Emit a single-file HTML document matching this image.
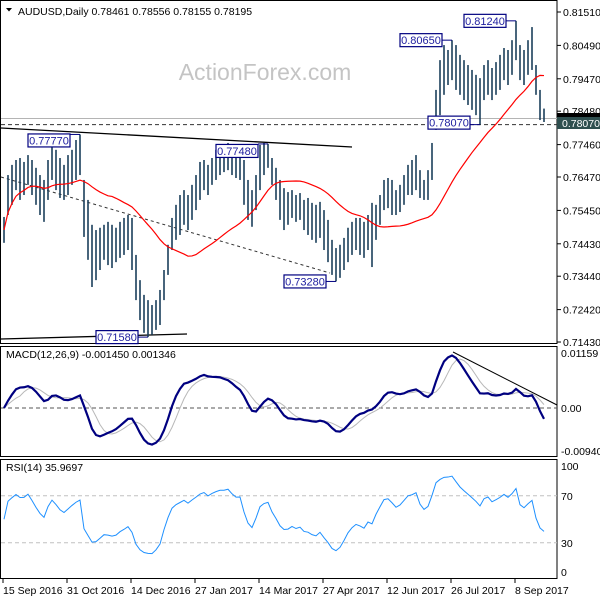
<!DOCTYPE html>
<html><head><meta charset="utf-8"><style>
body{margin:0;background:#fff;}
svg{display:block;font-family:"Liberation Sans",sans-serif;}
</style></head><body>
<svg id="c" width="600" height="600" viewBox="0 0 600 600"></svg>
<script>
const highs=[.7525,.7653,.7684,.7699,.7705,.7693,.7714,.7699,.7675,.7653,
.7638,.7699,.7739,.7730,.7705,.7684,.7714,.7730,.7760,.7777,
.7638,.7577,.7501,.7485,.7492,.7501,.7510,.7501,.7492,.7510,
.7522,.7531,.7522,.7409,.7332,.7287,.7271,.7256,.7271,.7302,
.7363,.7440,.7522,.7562,.7592,.7607,.7592,.7623,.7653,.7693,
.7699,.7684,.7705,.7730,.7745,.7736,.7751,.7736,.7723,.7730,
.7699,.7638,.7607,.7653,.7745,.7751,.7748,.7705,.7675,.7638,
.7613,.7601,.7607,.7592,.7598,.7577,.7583,.7568,.7562,.7571,
.7546,.7516,.7455,.7430,.7440,.7461,.7492,.7510,.7522,.7522,
.7510,.7531,.7568,.7562,.7592,.7638,.7644,.7638,.7607,.7623,
.7653,.7684,.7699,.7714,.7668,.7638,.7668,.7751,.7913,.8004,
.8050,.8035,.8065,.8050,.8020,.8004,.7989,.7974,.7959,.7949,
.7989,.8004,.7980,.7998,.8020,.8041,.8035,.8065,.8124,.8050,
.8035,.8065,.8105,.7989,.7913,.7856];
const lows=[.7446,.7531,.7562,.7607,.7577,.7592,.7623,.7592,.7562,.7531,
.7510,.7577,.7638,.7607,.7583,.7577,.7592,.7623,.7638,.7653,
.7464,.7394,.7311,.7332,.7363,.7394,.7378,.7369,.7387,.7400,
.7409,.7424,.7363,.7271,.7210,.7171,.7158,.7165,.7180,.7195,
.7271,.7348,.7424,.7455,.7470,.7501,.7485,.7516,.7546,.7577,
.7607,.7592,.7623,.7638,.7653,.7662,.7668,.7653,.7644,.7638,
.7562,.7516,.7495,.7546,.7607,.7653,.7675,.7623,.7577,.7516,
.7485,.7501,.7522,.7510,.7516,.7485,.7470,.7455,.7446,.7461,
.7424,.7387,.7348,.7328,.7339,.7363,.7387,.7409,.7424,.7409,
.7400,.7424,.7372,.7455,.7501,.7546,.7552,.7531,.7531,.7540,
.7562,.7592,.7592,.7607,.7583,.7577,.7577,.7638,.7791,.7836,
.7898,.7928,.7943,.7913,.7898,.7882,.7867,.7852,.7836,.7807,
.7882,.7898,.7882,.7898,.7913,.7943,.7928,.7959,.8004,.7943,
.7928,.7959,.7974,.7898,.7821,.7815];
const priceTicks=[0.8151,0.8049,0.7947,0.7848,0.7746,0.7647,0.7545,0.7443,0.7344,0.7242,0.7143];
const priceTickLabels=["0.81510","0.80490","0.79470","0.78480","0.77460","0.76470","0.75450","0.74430","0.73440","0.72420","0.71430"];
const dateIdx=[0,16,32,48,64,80,96,112,128];
const dateLabels=["15 Sep 2016","31 Oct 2016","14 Dec 2016","27 Jan 2017","14 Mar 2017","27 Apr 2017","12 Jun 2017","26 Jul 2017","8 Sep 2017"];
const annIdx=[19,66,36,83,119,112,128];
const annPrice=[0.7777,0.7748,0.7158,0.7328,0.7807,0.8065,0.8124];
const annText=["0.77770","0.77480","0.71580","0.73280","0.78070","0.80650","0.81240"];
const rsiTicks=[100,70,30,0];

const NS="http://www.w3.org/2000/svg";
const svg=document.getElementById('c');
function el(t,a,p){const e=document.createElementNS(NS,t);for(const k in a)e.setAttribute(k,a[k]);(p||svg).appendChild(e);return e;}
const X=i=>4+i*4;
const Y=p=>12+(0.8151-p)*3274;
const MY=v=>408-v*4750;
const RY=v=>578-v*1.175;
const FS=10.5;

let r;
r=el('rect',{x:0.5,y:0.5,width:556.5,height:343,fill:'none',stroke:'#000'});

r=el('rect',{x:0.5,y:346.5,width:556.5,height:110,fill:'none',stroke:'#000'});

r=el('rect',{x:0.5,y:459.5,width:556.5,height:119,fill:'none',stroke:'#000'});


let t=el('text',{x:265,y:80,'font-size':23,fill:'#c4c4c4','text-anchor':'middle'});t.textContent='ActionForex.com';

t=el('text',{x:18,y:15,'font-size':FS,fill:'#000'});t.textContent='AUDUSD,Daily  0.78461 0.78556 0.78155 0.78195';

let tri=el('path',{d:'M6 8 L12 8 L9 11.5 Z',fill:'#000'});


let l=el('line',{x1:1,x2:557,y1:118.5,y2:118.5,stroke:'#b4b4b4'});

l=el('line',{x1:1,x2:557,y1:Y(0.7807),y2:Y(0.7807),stroke:'#333','stroke-dasharray':'4,3'});

l=el('line',{x1:1,y1:128,x2:352,y2:147,stroke:'#000','stroke-width':1.3});

l=el('line',{x1:1,y1:339,x2:187,y2:334,stroke:'#000','stroke-width':1.3});

l=el('line',{x1:1,y1:177,x2:330,y2:273,stroke:'#333','stroke-dasharray':'3,3'});


const mid=highs.map((h,i)=>(h+lows[i])/2);
for(let i=0;i<highs.length;i++){
  const b=el('line',{x1:X(i),x2:X(i),y1:Y(highs[i]),y2:Y(lows[i]),stroke:'#1b3f5c','stroke-width':1.6});
  
  
}
const N=27;let ma=[];
for(let i=0;i<mid.length;i++){const s=Math.max(0,i-N+1);let sum=0;for(let j=s;j<=i;j++)sum+=mid[j];ma.push(sum/(i-s+1));}
let p=el('polyline',{points:ma.map((v,i)=>X(i)+','+Y(v)).join(' '),fill:'none',stroke:'#ff0000','stroke-width':1.2});


const dys=[6,7,0,0,-2,0,0];
for(let k=0;k<annIdx.length;k++){
  const bx=X(annIdx[k]),by=Y(annPrice[k]);const cy=by+dys[k];const right=bx-10;
  const c=el('line',{x1:right,x2:bx,y1:by,y2:by,stroke:'#000080'});
  
  const bg=el('rect',{x:right-42,y:cy-6.5,width:42,height:13,fill:'#fff',stroke:'#000080','stroke-width':1.2});
  
  const tx=el('text',{x:right-21,y:cy+4,'font-size':11,fill:'#2020a0','text-anchor':'middle'});tx.textContent=annText[k];
  
}

for(let k=0;k<priceTicks.length;k++){
  const y=Y(priceTicks[k]);
  const tk=el('line',{x1:557,x2:561,y1:y,y2:y,stroke:'#000'});
  
  const tx=el('text',{x:563,y:y+4,'font-size':FS,fill:'#000'});tx.textContent=priceTickLabels[k];
  
}
r=el('rect',{x:557,y:113,width:43,height:5,fill:'#000'});

r=el('rect',{x:557,y:117,width:43,height:12,fill:'#2f4f4f'});

t=el('text',{x:562,y:127,'font-size':FS,fill:'#fff'});t.textContent='0.78070';


function ema(a,n){const k=2/(n+1);let o=[a[0]];for(let i=1;i<a.length;i++)o.push(a[i]*k+o[i-1]*(1-k));return o;}
const e1=ema(mid,6),e2=ema(mid,13);const macd=mid.map((v,i)=>e1[i]-e2[i]);
let sig=[];for(let i=0;i<macd.length;i++){const s=Math.max(0,i-4);let sm=0;for(let j=s;j<=i;j++)sm+=macd[j];sig.push(sm/(i-s+1));}
l=el('line',{x1:1,x2:557,y1:408,y2:408,stroke:'#555','stroke-dasharray':'4,3'});

p=el('polyline',{points:sig.map((v,i)=>X(i)+','+MY(v)).join(' '),fill:'none',stroke:'#b8b8b8','stroke-width':1});

p=el('polyline',{points:macd.map((v,i)=>X(i)+','+MY(v)).join(' '),fill:'none',stroke:'#000080','stroke-width':2.2});

l=el('line',{x1:453,y1:352,x2:557,y2:405,stroke:'#000'});

t=el('text',{x:6,y:358,'font-size':FS,fill:'#000'});t.textContent='MACD(12,26,9) -0.001450 0.001346';

[["0.01159",357],["0.00",412],["-0.009408",455]].forEach(a=>{
  const tx=el('text',{x:561,y:a[1],'font-size':FS,fill:'#000'});tx.textContent=a[0];
  
});

// RSI computed from typical price with a longer smoothing period
let gains=[0],losses=[0];for(let i=1;i<mid.length;i++){const d=mid[i]-mid[i-1];gains.push(Math.max(d,0));losses.push(Math.max(-d,0));}
let ag=0.0012,al=0.0012,rsi=[];const RN=12;
for(let i=0;i<mid.length;i++){ag=(ag*(RN-1)+gains[i])/RN;al=(al*(RN-1)+losses[i])/RN;rsi.push(100-100/(1+ag/(al||1e-9)));}
[70,30].forEach(v=>{const g=el('line',{x1:1,x2:557,y1:RY(v),y2:RY(v),stroke:'#c0c0c0','stroke-dasharray':'4,3'});
  });
p=el('polyline',{points:rsi.map((v,i)=>X(i)+','+RY(v)).join(' '),fill:'none',stroke:'#1e90ff','stroke-width':1});

t=el('text',{x:6,y:471,'font-size':FS,fill:'#000'});t.textContent='RSI(14) 35.9697';

rsiTicks.forEach(v=>{const y=Math.min(Math.max(RY(v),466),572);
  const tx=el('text',{x:561,y:y+4,'font-size':FS,fill:'#000'});tx.textContent=String(v);
  });

for(let k=0;k<dateIdx.length;k++){
  const x=X(dateIdx[k])-1;
  const tk=el('line',{x1:x,x2:x,y1:579,y2:583,stroke:'#000'});
  
  const tx=el('text',{x:x,y:594,'font-size':FS,fill:'#000'});tx.textContent=dateLabels[k];
  
}
</script>
</body></html>
